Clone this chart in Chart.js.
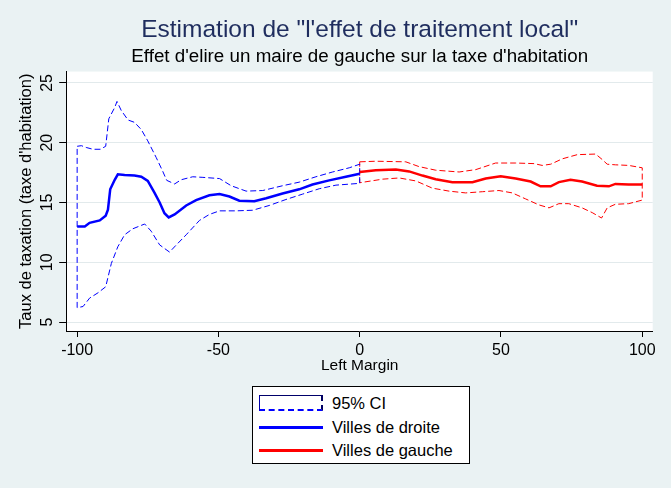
<!DOCTYPE html>
<html>
<head>
<meta charset="utf-8">
<script src="https://cdn.jsdelivr.net/npm/chart.js@4"></script>
<style>
  html, body { margin:0; padding:0; background:#EAF2F3; }
  #wrap { position:relative; width:671px; height:488px; overflow:hidden; }
  #c { position:absolute; left:0; top:0; }
  #legend { position:absolute; left:252px; top:386px; width:218px; height:78px; box-sizing:border-box;
            border:1px solid #000; background:#fff; font-family:'Liberation Sans', Arial, sans-serif; font-size:16.5px; color:#000; }
  .lab { position:absolute; left:79px; height:20px; line-height:20px; white-space:nowrap; }
  .key { position:absolute; left:6px; width:64px; }
</style>
</head>
<body>
<div id="wrap">
  <canvas id="c" width="671" height="488"></canvas>
  <div id="legend"></div>
</div>
<script>
// ---------- DATA ----------
const titleText = 'Estimation de "l\'effet de traitement local"';
const subtitleText = "Effet d'elire un maire de gauche sur la taxe d'habitation";
const xTitle = 'Left Margin';
const yTitle = "Taux de taxation (taxe d'habitation)";
const xTicks = [-100, -50, 0, 50, 100];
const yTicks = [5, 10, 15, 20, 25];
const legendLabels = ['95% CI', 'Villes de droite', 'Villes de gauche'];

// Villes de droite (left margin < 0): estimate, upper and lower 95% CI
const droiteEst = [[-100,13.0],[-97.3,13.0],[-95.6,13.3],[-92,13.5],[-89.9,13.9],[-89.1,14.4],[-88.3,16.1],[-86.7,16.9],[-85.6,17.35],[-83.2,17.3],[-79.7,17.25],[-77.3,17.15],[-75,16.8],[-72.6,15.8],[-70.8,15.0],[-69.1,14.1],[-67.6,13.75],[-65.5,14.0],[-61.4,14.75],[-57.9,15.2],[-53.2,15.6],[-49.6,15.7],[-46.1,15.5],[-42.6,15.15],[-37.3,15.1],[-33.1,15.35],[-27.3,15.75],[-21.4,16.1],[-16.7,16.5],[-10.8,16.85],[-4.9,17.15],[0,17.4]];
const droiteHaut = [[-100,19.7],[-98.5,19.75],[-96.8,19.6],[-94.4,19.45],[-91.8,19.45],[-89.9,19.7],[-88.8,22.0],[-86.7,22.95],[-85.9,23.45],[-84.4,22.7],[-82,21.9],[-79.7,21.7],[-77.3,21.1],[-75,20.15],[-72,18.75],[-69.7,17.6],[-68.3,16.85],[-65.5,16.55],[-63.2,16.9],[-59.1,17.15],[-55.5,17.1],[-49.6,17.0],[-45.5,16.4],[-40.2,15.95],[-34.3,16.0],[-27.3,16.4],[-21.4,16.7],[-15.5,17.15],[-9.6,17.55],[-3.7,17.9],[0,18.2]];
const droiteBas = [[-100,6.2],[-97.9,6.3],[-95.6,7.0],[-92.6,7.45],[-89.9,7.95],[-87.9,9.9],[-85.6,11.3],[-83.2,12.3],[-80.3,12.8],[-76.1,13.2],[-73.8,12.6],[-70.8,11.45],[-67.3,10.85],[-64.9,11.45],[-61.4,12.3],[-56.7,13.5],[-53.2,14.0],[-49.6,14.3],[-43.7,14.3],[-37.9,14.35],[-32,14.75],[-26.1,15.25],[-20.2,15.7],[-14.3,16.15],[-8.4,16.45],[0,16.6]];

// Villes de gauche (left margin > 0)
const gaucheEst = [[0,17.55],[5.7,17.7],[12.8,17.75],[17.5,17.6],[22.2,17.25],[26.9,16.95],[32.8,16.7],[39.9,16.7],[44.6,17.0],[49.9,17.2],[55.2,17.0],[60.5,16.75],[64,16.35],[67.6,16.35],[70.5,16.7],[74.6,16.9],[78.7,16.75],[84,16.4],[88.2,16.35],[90.5,16.55],[95.2,16.5],[100,16.5]];
const gaucheHaut = [[0,18.4],[5.7,18.45],[16.3,18.4],[21,18.0],[26.9,17.7],[35.2,17.55],[41.1,17.75],[48.1,18.3],[55.2,18.3],[61.7,18.25],[64.6,18.1],[67.6,18.2],[71.7,18.65],[77,19.0],[83.5,19.05],[85.8,18.6],[87.6,18.2],[90.5,18.15],[95.2,18.1],[100,17.9]];
const gaucheBas = [[0,16.65],[8.1,16.95],[14,17.05],[19.9,16.8],[25.7,16.2],[31.6,15.95],[37.5,15.8],[43.4,15.9],[49.3,16.0],[54,15.8],[58.7,15.3],[63.4,14.8],[67,14.55],[70.5,14.9],[74,14.9],[78.7,14.55],[82.3,14.15],[85.6,13.7],[87.6,14.55],[90.5,14.85],[95.2,14.9],[100,15.2]];

// ---------- helpers ----------
const toPts = arr => arr.map(p => ({x: p[0], y: p[1]}));
const band = (up, lo) => toPts(up.concat(lo.slice().reverse()).concat([up[0]]));

const BLUE = '#0000FF', RED = '#FF0000';
const FONT = "'Liberation Sans', Arial, sans-serif";
Chart.defaults.font.family = FONT;

const bgPlugin = {
  id: 'bg',
  beforeDraw(chart) {
    const {ctx, chartArea: a} = chart;
    ctx.save();
    ctx.fillStyle = '#EAF2F3';
    ctx.fillRect(0, 0, chart.width, chart.height);
    ctx.fillStyle = '#FFFFFF';
    ctx.fillRect(a.left, a.top, a.right - a.left, a.bottom - a.top);
    ctx.restore();
  }
};

const lineDs = (label, data, color, width, dash, order) => ({
  label, data, borderColor: color, backgroundColor: color, borderWidth: width,
  borderDash: dash, pointRadius: 0, pointHoverRadius: 0, tension: 0, fill: false, order
});

new Chart(document.getElementById('c'), {
  type: 'line',
  data: {
    datasets: [
      lineDs(legendLabels[1], toPts(droiteEst), BLUE, 2.5, [], 1),
      lineDs(legendLabels[2], toPts(gaucheEst), RED, 2.5, [], 1),
      lineDs(legendLabels[0] + ' droite', band(droiteHaut, droiteBas), BLUE, 1, [6, 3], 2),
      lineDs(legendLabels[0] + ' gauche', band(gaucheHaut, gaucheBas), RED, 1, [6, 3], 2)
    ]
  },
  options: {
    responsive: false,
    animation: false,
    devicePixelRatio: 1,
    layout: { padding: { left: 0, right: 18.3, top: 0, bottom: 112.5 } },
    plugins: {
      legend: { display: false },
      tooltip: { enabled: false },
      title: {
        display: true, text: titleText, color: '#1f2d5e', fullSize: false,
        font: { size: 24.5, weight: 'normal', family: FONT }, padding: { top: 15.8, bottom: 0 }
      },
      subtitle: {
        display: true, text: subtitleText, color: '#000', fullSize: false,
        font: { size: 18.8, weight: 'normal', family: FONT }, padding: { top: 0.1, bottom: 3.7 }
      }
    },
    scales: {
      x: {
        type: 'linear', min: -103.7, max: 103.7,
        afterBuildTicks: s => { s.ticks = xTicks.map(v => ({value: v})); },
        afterFit: s => { s.height = 44.5; },
        ticks: { color: '#000', font: { size: 16 }, padding: 4, maxRotation: 0, autoSkip: false },
        grid: { drawOnChartArea: false, drawTicks: true, tickLength: 6, color: '#000', tickColor: '#000' },
        border: { color: '#000', width: 1 },
        title: { display: true, text: xTitle, color: '#000', font: { size: 15.5 }, padding: { top: 0, bottom: 0 } }
      },
      y: {
        type: 'linear', min: 4.25, max: 25.95,
        afterBuildTicks: s => { s.ticks = yTicks.map(v => ({value: v})); },
        afterFit: s => { s.width = 66.7; },
        ticks: { color: '#000', font: { size: 16 }, minRotation: 90, maxRotation: 90, crossAlign: 'center', padding: 2.3, autoSkip: false },
        grid: { color: '#E2EAEC', tickColor: '#000', tickLength: 7.5, lineWidth: 1 },
        border: { color: '#000', width: 1 },
        title: { display: true, text: yTitle, color: '#000', font: { size: 16.5 }, padding: { top: 17, bottom: 0 } }
      }
    }
  },
  plugins: [bgPlugin]
});

// ---------- legend (HTML, real text) ----------
const leg = document.getElementById('legend');
const rows = [
  { top: 16, key: '<div class="key" style="top:8px;height:16px;box-sizing:border-box;background:#fff;border-top:1px solid #00006a;border-left:1.5px solid #0000aa;border-bottom:2px dashed #0000FF;border-right:2px dashed #000060;"></div>' },
  { top: 40, key: '<div class="key" style="top:38.5px;height:3px;background:' + BLUE + ';"></div>' },
  { top: 63, key: '<div class="key" style="top:61.5px;height:3px;background:' + RED + ';"></div>' }
];
rows.forEach((r, i) => {
  leg.insertAdjacentHTML('beforeend', r.key + '<div class="lab" style="top:' + (r.top - 10) + 'px">' + legendLabels[i] + '</div>');
});
</script>
</body>
</html>
